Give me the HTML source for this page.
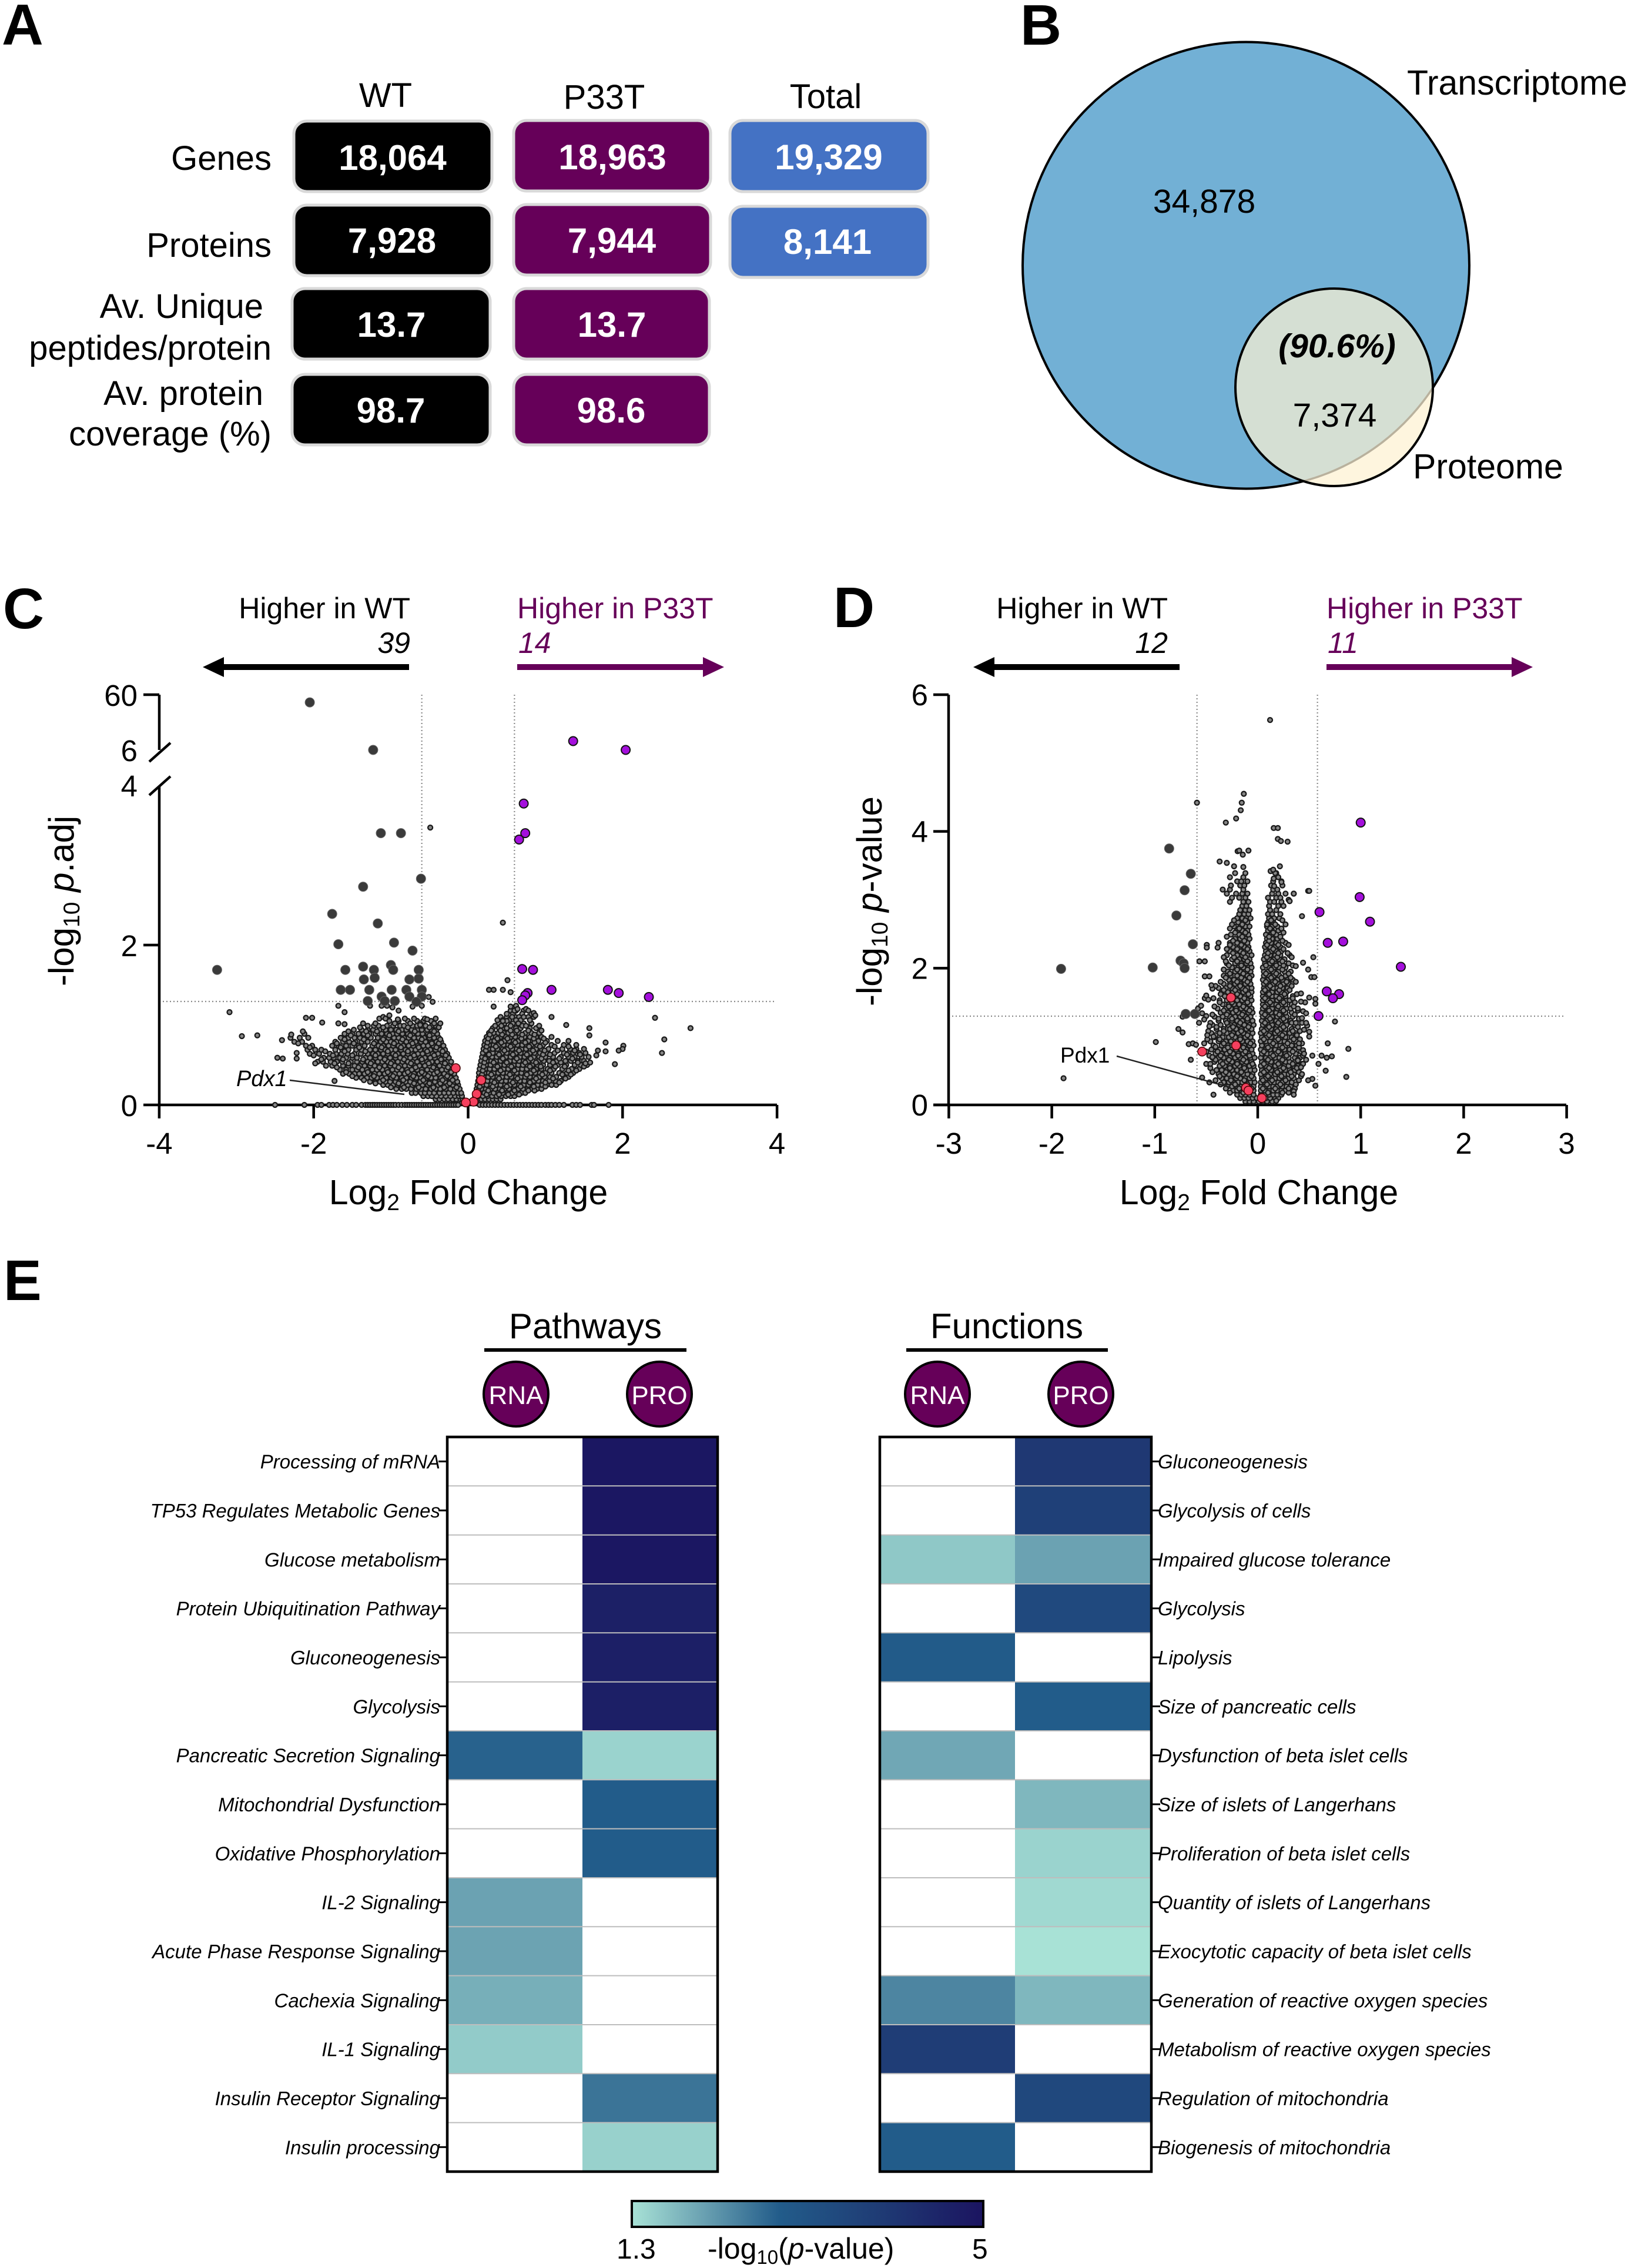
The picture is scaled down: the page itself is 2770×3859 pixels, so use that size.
<!DOCTYPE html>
<html lang="en"><head><meta charset="utf-8"><title>Transcriptome and proteome figure</title>
<style>html,body{margin:0;padding:0;background:#fff}svg{display:block}text{font-family:"Liberation Sans",sans-serif;fill:#000}.w text,text.w{fill:#fff}.b{font-weight:700}.i{font-style:italic}.p{fill:#660059}</style></head>
<body>
<svg id="fig" xmlns="http://www.w3.org/2000/svg" width="2770" height="3859" viewBox="0 0 2770 3859">
<rect width="2770" height="3859" fill="#fff"/>
<g font-size="97" class="b">
<text class="b" x="3" y="76" font-size="98">A</text>
<text class="b" x="1736" y="76">B</text>
<text class="b" x="5" y="1069">C</text>
<text class="b" x="1418" y="1067">D</text>
<text class="b" x="6" y="2212">E</text>
</g>
<g font-size="58">
<text x="656" y="182" text-anchor="middle">WT</text>
<text x="1028" y="185" text-anchor="middle">P33T</text>
<text x="1405" y="184" text-anchor="middle">Total</text>
<text x="462" y="289" text-anchor="end">Genes</text>
<text x="462" y="437" text-anchor="end">Proteins</text>
<text x="448" y="541" text-anchor="end">Av. Unique</text>
<text x="462" y="612" text-anchor="end">peptides/protein</text>
<text x="448" y="689" text-anchor="end">Av. protein</text>
<text x="462" y="758" text-anchor="end">coverage (%)</text>
<g stroke="#d9d9d9" stroke-width="5">
<rect x="500" y="206" width="337" height="120" rx="22" fill="#000"/>
<rect x="874" y="205" width="335" height="120" rx="22" fill="#660059"/>
<rect x="1242" y="205" width="337" height="121" rx="22" fill="#4472c4"/>
<rect x="500" y="349" width="337" height="120" rx="22" fill="#000"/>
<rect x="874" y="348" width="335" height="120" rx="22" fill="#660059"/>
<rect x="1242" y="351" width="337" height="121" rx="22" fill="#4472c4"/>
<rect x="497" y="491" width="337" height="120" rx="22" fill="#000"/>
<rect x="874" y="491" width="333" height="120" rx="22" fill="#660059"/>
<rect x="497" y="637" width="337" height="120" rx="22" fill="#000"/>
<rect x="874" y="637" width="333" height="120" rx="22" fill="#660059"/>
</g>
<g class="w" font-size="60" text-anchor="middle">
<text class="b" x="668" y="289">18,064</text>
<text class="b" x="1042" y="288">18,963</text>
<text class="b" x="1410" y="288">19,329</text>
<text class="b" x="667" y="430">7,928</text>
<text class="b" x="1041" y="430">7,944</text>
<text class="b" x="1408" y="432">8,141</text>
<text class="b" x="666" y="573">13.7</text>
<text class="b" x="1041" y="573">13.7</text>
<text class="b" x="665" y="719">98.7</text>
<text class="b" x="1040" y="719">98.6</text>
</g>
</g>
<g>
<defs><clipPath id="bigClip"><circle cx="2120" cy="451.5" r="380"/></clipPath><clipPath id="smallClip"><circle cx="2270" cy="659" r="168"/></clipPath></defs>
<circle cx="2120" cy="451.5" r="380" fill="#72b0d5" stroke="#000" stroke-width="4"/>
<circle cx="2270" cy="659" r="168" fill="#fef5de"/>
<circle cx="2270" cy="659" r="168" fill="#d5dfd3" clip-path="url(#bigClip)"/>
<circle cx="2120" cy="451.5" r="380" fill="none" stroke="#b9b19d" stroke-width="3.5" clip-path="url(#smallClip)"/>
<circle cx="2270" cy="659" r="168" fill="none" stroke="#000" stroke-width="4"/>
<text font-size="57" x="2049" y="362" text-anchor="middle">34,878</text>
<text class="b i" font-size="57" x="2275" y="608" text-anchor="middle">(90.6%)</text>
<text font-size="57" x="2271" y="726" text-anchor="middle">7,374</text>
<text font-size="59" x="2394" y="161">Transcriptome</text>
<text font-size="59" x="2404" y="814">Proteome</text>
</g>
<g font-size="50">
<text x="698" y="1052" text-anchor="end">Higher in WT</text>
<text class="i" x="698" y="1111" text-anchor="end">39</text>
<text class="p" x="880" y="1052">Higher in P33T</text>
<text class="p i" x="882" y="1111">14</text>
<path d="M696 1130V1140H381V1152L345 1135L381 1118V1130Z" fill="#000"/>
<path d="M880 1130V1140H1196V1152L1232 1135L1196 1118V1130Z" fill="#660059"/>
</g>
<g font-size="50">
<text x="1987" y="1052" text-anchor="end">Higher in WT</text>
<text class="i" x="1987" y="1111" text-anchor="end">12</text>
<text class="p" x="2257" y="1052">Higher in P33T</text>
<text class="p i" x="2259" y="1111">11</text>
<path d="M2007 1130V1140H1692V1152L1656 1135L1692 1118V1130Z" fill="#000"/>
<path d="M2257 1130V1140H2572V1152L2608 1135L2572 1118V1130Z" fill="#660059"/>
</g>
<g id="volcC"></g>
<g id="volcD"></g>
<text font-size="60" transform="translate(125 1678) rotate(-90)">-log<tspan font-size="39" dy="10">10</tspan><tspan dy="-10"> </tspan><tspan class="i">p</tspan>.adj</text>
<text font-size="60" transform="translate(1500 1712) rotate(-90)">-log<tspan font-size="39" dy="10">10</tspan><tspan dy="-10"> </tspan><tspan class="i">p</tspan>-value</text>
<text font-size="59" x="797" y="2049" text-anchor="middle">Log<tspan font-size="39" dy="10">2</tspan><tspan dy="-10"> Fold Change</tspan></text>
<text font-size="59" x="2142" y="2049" text-anchor="middle">Log<tspan font-size="39" dy="10">2</tspan><tspan dy="-10"> Fold Change</tspan></text>
<text class="i" font-size="38" x="402" y="1848">Pdx1</text>
<line x1="493" y1="1838" x2="688" y2="1862" stroke="#222" stroke-width="2.5"/>
<text font-size="37" x="1804" y="1808">Pdx1</text>
<line x1="1900" y1="1797" x2="2093" y2="1850" stroke="#222" stroke-width="2.5"/>
<g>
<text font-size="60" x="996" y="2277" text-anchor="middle">Pathways</text>
<rect x="824" y="2294" width="344" height="6"/>
<text font-size="60" x="1713" y="2277" text-anchor="middle">Functions</text>
<rect x="1542" y="2294" width="343" height="6"/>
<g stroke="#000" stroke-width="4" fill="#660059">
<circle cx="878" cy="2372" r="55"/>
<circle cx="1122" cy="2372" r="55"/>
<circle cx="1595" cy="2372" r="55"/>
<circle cx="1839" cy="2372" r="55"/>
</g>
<g class="w" font-size="44" text-anchor="middle">
<text x="878" y="2389">RNA</text>
<text x="1122" y="2389">PRO</text>
<text x="1595" y="2389">RNA</text>
<text x="1839" y="2389">PRO</text>
</g>
</g>
<g id="heatP"></g>
<g id="heatF"></g>
<g>
<defs><linearGradient id="cbar" x1="0" x2="1" y1="0" y2="0"></linearGradient></defs>
<rect x="1075" y="3745" width="598" height="44" fill="url(#cbar)" stroke="#000" stroke-width="4"/>
<text font-size="48" x="1049" y="3843">1.3</text>
<text font-size="50" x="1204" y="3843">-log<tspan font-size="33" dy="9">10</tspan><tspan dy="-9">(</tspan><tspan class="i">p</tspan>-value)</text>
<text font-size="48" x="1654" y="3843">5</text>
</g>
</svg>
<script>
// ---------- Panel C data (log2 fold change, -log10 p.adj) ----------
const cDownFc=[-2.05,-1.23,-1.13,-.87,-.61,-1.36,-1.76,-1.17,-1.68,-.96,-.72,-3.25,-1.36,-1,-1.59,-1.22,-.97,-.64,-1.35,-1.21,-.76,-.64,-1.65,-1.53,-1.28,-.99,-.8,-.6,-1.12,-.76,-.6,-1.3,-1.08,-.95,-.67];
const cDownP=[52.5,6,3.4,3.4,2.83,2.73,2.39,2.27,2.01,2.03,1.93,1.69,1.73,1.75,1.69,1.69,1.69,1.69,1.57,1.59,1.57,1.58,1.44,1.44,1.44,1.44,1.44,1.44,1.355,1.355,1.355,1.3,1.3,1.3,1.29];
const cUpFc=[1.36,2.04,.72,.74,.66,.7,.84,1.08,1.81,1.95,2.34,.77,.74,.7];
const cUpP=[14.6,6,3.77,3.4,3.32,1.7,1.69,1.44,1.44,1.4,1.35,1.4,1.37,1.31];
const cPdxFc=[-.16,.17,.11,.07,-.03];
const cPdxP=[.46,.31,.137,.04,.03];
const cSmallFc=[-1.68,-1.6,-1.27,-1.12,-1.05,-.98,-.9,-.72,-.6,-1.1,-1.02,-1.07,-.91,-.51,-.46,-.53,-.62,-2.1,-2.02,-1.89,-1.68,-1.6,-3.09,-2.93,-2.73,-2.41,-2.47,-2.4,-2.22,-2.22,-2.29,-2.14,-1.73,-.49,.45,.51,.27,.33,.45,.55,.33,.55,.6,.57,.62,.5,.45,.65,.75,.78,.72,.85,.87,1.08,1.27,1.57,1.57,1.78,1.78,2.01,2,1.95,1.9,1.68,1.66,1.52,2.42,2.88,2.54,2.51,.62,.64];
const cSmallP=[1.24,1.16,1.24,1.24,1.24,1.22,1.18,1.23,1.24,1.1,1.12,1.08,1.07,1.35,1.29,1.07,1,1.09,1.09,1.03,1.02,1.01,1.16,.86,.87,.81,.59,.58,.65,.58,.88,.92,.3,3.47,2.28,1.56,1.44,1.44,1.44,1.41,1.23,1.23,1.18,1.1,1.06,1.05,1.05,1.02,1.2,1.18,1.1,1.15,1.12,1.1,1,.96,.87,.78,.67,.74,.7,.68,.51,.68,.62,.52,1.09,.96,.82,.65,1.24,1.2];
const cZeroFc=[-2.5,-2.12,-1.95,-1.9,-1.8,-1.75,-1.7,-1.63,-1.57,-1.5,-1.45,-1.38,-1.33,-1.3,-1.27,-1.24,-1.21,-1.18,-1.15,-1.12,-1.09,-1.06,-1.03,-1,-.97,-.94,-.9,-.86,-.82,-.79,-.76,-.73,-.7,-.67,-.64,-.61,-.58,-.55,-.52,-.49,-.46,-.43,-.4,-.37,-.34,-.31,-.28,-.25,-.22,-.19,-.16,-.13,.15,.19,.23,.27,.31,.35,.39,.43,.47,.51,.55,.59,.63,.67,.71,.75,.79,.83,.87,.91,.95,1,1.04,1.08,1.13,1.18,1.24,1.35,1.4,1.45,1.6,1.63,1.82];
const cRowP=[.03,.07,.11,.15,.2,.25,.29,.34,.39,.44,.49,.54,.59,.64,.69,.74,.79,.84,.89,.94,.99,1.05,
.03,.07,.11,.15,.2,.25,.3,.35,.4,.45,.5,.55,.6,.65,.7,.75,.8,.85,.9,.96,1.02,1.1,1.18,
.22,.27,.31,.36,.41,.47,.52,.57,.62,.67,.72,.77,.82,.87,.92,.97,1.02,1.08,
.13,.18,.23,.28,.33,.38,.43,.48,.53,.58,.63,.68,.73,.78,.83,.88,.93,.99,1.06,1.14];
const cRowFc=[
[-.24,-.19,-.15,-.11,-.08,-.05],
[-.42,-.37,-.31,-.26,-.2,-.15,-.1,-.07],
[-.58,-.52,-.47,-.41,-.35,-.29,-.23,-.17,-.12,-.08],
[-.73,-.68,-.61,-.56,-.5,-.44,-.37,-.31,-.25,-.19,-.13,-.09],
[-.93,-.86,-.8,-.74,-.67,-.61,-.55,-.48,-.42,-.36,-.29,-.23,-.17,-.11],
[-1.1,-1.04,-.97,-.91,-.85,-.78,-.72,-.65,-.59,-.52,-.46,-.39,-.33,-.27,-.2,-.13],
[-1.27,-1.2,-1.14,-1.07,-1.01,-.94,-.88,-.81,-.75,-.69,-.62,-.56,-.49,-.43,-.37,-.3,-.24,-.18,-.14],
[-1.45,-1.38,-1.31,-1.25,-1.18,-1.12,-1.06,-.99,-.93,-.86,-.8,-.73,-.67,-.61,-.54,-.48,-.42,-.35,-.29,-.23,-.16],
[-1.62,-1.54,-1.47,-1.41,-1.34,-1.28,-1.21,-1.15,-1.08,-1.02,-.95,-.89,-.82,-.76,-.7,-.63,-.57,-.5,-.44,-.38,-.31,-.25,-.18],
[-1.66,-1.58,-1.5,-1.44,-1.37,-1.31,-1.24,-1.18,-1.11,-1.05,-.98,-.92,-.86,-.79,-.73,-.66,-.6,-.53,-.47,-.41,-.34,-.28,-.21],
[-1.84,-1.76,-1.62,-1.55,-1.47,-1.4,-1.34,-1.27,-1.21,-1.14,-1.08,-1.01,-.95,-.88,-.82,-.76,-.69,-.63,-.56,-.5,-.44,-.37,-.31,-.24],
[-1.95,-1.88,-1.78,-1.7,-1.63,-1.52,-1.44,-1.37,-1.3,-1.24,-1.17,-1.11,-1.04,-.98,-.91,-.85,-.78,-.72,-.66,-.59,-.53,-.47,-.4,-.34,-.27,-.22],
[-1.87,-1.8,-1.74,-1.66,-1.58,-1.5,-1.44,-1.33,-1.27,-1.2,-1.14,-1.07,-1.01,-.94,-.88,-.81,-.75,-.69,-.62,-.56,-.49,-.43,-.37,-.3,-.25],
[-2.05,-1.93,-1.79,-1.71,-1.64,-1.56,-1.47,-1.39,-1.3,-1.23,-1.17,-1.1,-1.04,-.97,-.91,-.84,-.78,-.72,-.65,-.59,-.52,-.46,-.39,-.33,-.27],
[-2.08,-1.98,-1.9,-1.72,-1.63,-1.55,-1.45,-1.38,-1.27,-1.2,-1.13,-1.07,-1,-.94,-.87,-.81,-.74,-.68,-.62,-.55,-.49,-.42,-.36,-.3],
[-2.1,-2.02,-1.76,-1.68,-1.58,-1.5,-1.42,-1.34,-1.24,-1.16,-1.1,-1.03,-.97,-.9,-.84,-.77,-.71,-.65,-.58,-.52,-.45,-.39,-.32],
[-2.25,-2.15,-1.72,-1.62,-1.54,-1.46,-1.38,-1.3,-1.2,-1.13,-1.06,-1,-.93,-.87,-.8,-.74,-.68,-.61,-.55,-.48,-.41,-.35],
[-2.3,-2.18,-2.07,-1.65,-1.55,-1.47,-1.4,-1.33,-1.26,-1.17,-1.09,-1.03,-.96,-.9,-.83,-.77,-.7,-.64,-.57,-.5,-.44,-.38],
[-2.12,-1.6,-1.5,-1.42,-1.35,-1.28,-1.2,-1.12,-1.05,-.98,-.92,-.85,-.78,-.72,-.65,-.59,-.52,-.46,-.4],
[-1.48,-1.38,-1.3,-1.23,-1.15,-1.07,-1,-.93,-.86,-.8,-.73,-.66,-.6,-.53,-.47,-.41],
[-1.3,-1.22,-1.16,-1.05,-.97,-.88,-.83,-.72,-.66,-.6,-.55,-.47,-.42],
[-1.02,-.9,-.78,-.66,-.58,-.48],
[.07,.1,.14,.19,.24],
[.08,.12,.17,.22,.27,.32,.37,.42],
[.09,.13,.19,.25,.31,.37,.43,.49,.55,.6],
[.1,.15,.21,.27,.33,.39,.45,.51,.57,.63,.69,.74],
[.11,.17,.23,.29,.35,.41,.47,.53,.59,.65,.71,.77,.83,.89,.95],
[.12,.18,.24,.3,.36,.42,.48,.54,.6,.66,.72,.78,.84,.9,.96,1.02,1.08,1.14],
[.13,.19,.25,.31,.37,.43,.49,.55,.61,.67,.73,.79,.85,.91,.97,1.05,1.13,1.2],
[.14,.2,.26,.32,.38,.44,.5,.56,.62,.68,.74,.8,.86,.92,.99,1.06,1.14,1.24,1.3],
[.14,.21,.27,.33,.39,.45,.51,.57,.63,.69,.75,.81,.87,.93,1,1.08,1.18,1.28,1.36],
[.15,.22,.28,.34,.4,.46,.52,.58,.64,.7,.76,.82,.88,.95,1.03,1.11,1.22,1.34,1.44],
[.16,.23,.29,.35,.41,.47,.53,.59,.65,.71,.77,.83,.9,.97,1.06,1.16,1.27,1.38,1.46,1.54],
[.17,.24,.3,.36,.42,.48,.54,.6,.66,.72,.78,.84,.91,.98,1.05,1.15,1.26,1.33,1.42,1.5],
[.18,.24,.31,.37,.43,.49,.55,.61,.67,.73,.79,.85,.92,1,1.1,1.2,1.3,1.38,1.47,1.56],
[.19,.25,.32,.38,.44,.5,.56,.62,.68,.74,.8,.86,.93,1.01,1.12,1.24,1.3,1.36,1.44,1.52],
[.2,.26,.32,.38,.45,.51,.57,.63,.69,.75,.81,.88,.95,1.04,1.22,1.32,1.4,1.5],
[.21,.27,.33,.39,.46,.52,.58,.64,.7,.76,.82,.89,.97,1.08,1.24,1.4],
[.22,.28,.34,.41,.47,.53,.59,.65,.71,.78,.84,.91,1.02,1.16,1.3],
[.24,.3,.36,.42,.49,.55,.61,.67,.73,.8,.88,.95,1.08],
[.27,.33,.39,.46,.52,.6,.66,.74,.82,.92],
[.32,.4,.45,.5,.62,.68,.8,.88],
[.4,.47,.58,.65,.72,.82],
[.42,.5,.61,.66,.78,.85],
[.55,.62,.72],
[-1,-.83,-.64,-.45,-.31,-.15],
[-1.2,-.9,-.7,-.5,-.36,-.24],
[-1.35,-1.1,-.84,-.58,-.33,-.2],
[-1.5,-1.22,-.97,-.71,-.52,-.27],
[-1.58,-1.3,-1.04,-.78,-.6,-.4,-.22],
[-1.7,-1.42,-1.15,-.9,-.68,-.45,-.26],
[-1.98,-1.73,-1.55,-1.26,-1,-.74,-.51,-.3],
[-1.9,-1.62,-1.36,-1.08,-.83,-.6,-.35],
[-2,-1.75,-1.5,-1.2,-.94,-.7,-.44,-.29],
[-1.85,-1.6,-1.33,-1.04,-.78,-.53,-.33],
[-2.05,-1.65,-1.41,-1.12,-.87,-.64,-.41],
[-2.2,-1.7,-1.48,-1.22,-.96,-.72,-.47,-.38],
[-1.6,-1.35,-1.1,-.85,-.6,-.36],
[-1.52,-1.3,-1.02,-.75,-.5],
[-1.55,-1.32,-1.18,-.9,-.69,-.44],
[-1.4,-1.1,-.78,-.5,-.38],
[-1.36,-1.2,-.95,-.75,-.62,-.44,-.36],
[-1.15,-.82,-.7,-.56,-.42],
[.12,.24,.4,.52,.66],
[.13,.26,.44,.6,.78,.86],
[.15,.32,.5,.68,.85,1],
[.16,.34,.58,.8,1,1.18],
[.17,.4,.64,.88,1.1,1.26],
[.18,.3,.54,.76,.96,1.22,1.33],
[.19,.42,.6,.85,1.06,1.3,1.4],
[.2,.38,.56,.8,.94,1.13,1.25,1.5],
[.21,.33,.5,.74,.88,1.1,1.2,1.42,1.58],
[.22,.45,.63,.81,.95,1.18,1.35],
[.27,.4,.58,.76,.97,1.06,1.28,1.45],
[.23,.47,.66,.84,.99,1.16,1.38],
[.24,.36,.55,.79,.93,1.12,1.3],
[.25,.43,.61,.74,.86,1],
[.26,.38,.51,.69,.85,.98],
[.28,.44,.57,.7,.86],
[.3,.42,.55,.63,.78,.95],
[.35,.43,.55,.7,.75,.92],
[.38,.45,.53,.68,.8],
[.5,.58,.7,.82]];
// ---------- Panel D data (log2 fold change, -log10 p-value) ----------
const dDownFc=[-.86,-.65,-.71,-.79,-.63,-.75,-.72,-.71,-1.02,-1.91,-.7,-.61];
const dDownP=[3.75,3.38,3.14,2.77,2.35,2.11,2.07,2,2.01,1.99,1.33,1.33];
const dUpFc=[1,.99,1.09,.6,.68,.83,1.39,.67,.79,.73,.59];
const dUpP=[4.13,3.04,2.68,2.82,2.37,2.39,2.02,1.66,1.62,1.56,1.3];
const dPdxFc=[-.26,-.21,-.54,-.115,-.09,.04];
const dPdxP=[1.57,.87,.78,.25,.21,.1];
const dSmallFc=[.12,-.135,-.155,-.165,-.21,-.31,-.59,.155,.195,.195,.225,.29,-.195,-.18,-.09,-.145,-.37,-.3,-.23,-.14,.215,.125,.15,.155,.23,.49,.35,.16,.3,-.566,-.514,-.495,-.495,-.38,-.39,-.514,-.47,-.44,-.45,-.514,-.48,-.58,-.54,-.73,-.57,-.77,-.73,-.99,-.67,-.63,-.6,-.65,-.54,-.47,-.43,-1.886,.5,.35,.31,.43,.54,.44,.37,.49,.52,.55,.42,.5,.56,.56,.46,.42,.39,.44,.47,.75,.43,.43,.48,.5,.45,.68,.88,.86,.72,.67,.62,.66,.59,.53,.44,.44,.44,.43,.53,.49,.56,.35,.35,.18,-.5,-.47,-.49,-.43,-.41,-.46,-.44,-.52,-.55,-.5,.4,.42,.39,.45,.5,.47];
const dSmallP=[5.63,4.55,4.42,4.31,4.19,4.13,4.42,4.05,4.05,3.89,3.86,3.85,3.71,3.72,3.72,3.66,3.56,3.54,3.49,3.48,3.49,3.42,3.44,3.31,3.26,3.13,3.09,3.2,3,2.1,2.1,2.34,2.3,2.37,2.3,1.88,1.88,1.7,1.75,1.56,1.54,1.41,1.34,1.29,1.2,1.11,1.06,.92,.89,.9,.88,.66,.4,.33,.15,.39,3.13,3.09,2.98,2.76,2.16,2.08,2.03,1.98,1.87,1.87,1.63,1.57,1.55,1.48,1.5,1.51,1.41,1.37,1.34,1.22,1.27,1.2,1.16,1.07,1.1,.9,.82,.41,.71,.69,.72,.5,.6,.72,.8,.72,.6,.45,.38,.36,.28,.2,.15,.06,1.3,1.15,1.02,1,.85,.6,.7,1.25,1.45,1.6,.9,.55,.65,.75,1,1.2];
const dRowP=[.05,.1,.15,.21,.27,.33,.39,.45,.51,.57,.63,.69,.75,.81,.87,.93,.99,1.05,1.11,1.17,1.23,1.29,1.35,1.41,1.47,1.53,1.59,1.65,1.71,1.77,1.83,1.89,1.95,2.01,2.07,2.13,2.19,2.25,2.31,2.37,2.43,2.49,2.55,2.61,2.67,2.73,2.79,2.85,2.91,2.97,3.03,3.09,3.15,3.21,3.27,3.33,3.39,
.18,.24,.3,.36,.42,.48,.54,.6,.66,.72,.78,.84,.9,.96,1.02,1.08,1.14,1.2,1.26,1.32,1.38,1.44,1.5,1.56,1.62,1.68,1.74,1.8,1.86,1.92,1.98,2.04,2.1,2.16,2.22,2.28,2.34,2.4,2.46,2.52,2.58,2.64,2.7];
const dRowFc=[
[-.12,-.08,-.04,.01,.05,.09,.14],
[-.17,-.13,-.09,-.05,-.01,.04,.08,.12,.17,.2],
[-.2,-.16,-.12,-.08,-.04,.03,.07,.11,.15,.19,.23],
[-.24,-.2,-.16,-.12,-.08,-.04,.03,.07,.11,.15,.19,.23,.27],
[-.29,-.25,-.2,-.16,-.12,-.08,-.04,.03,.07,.11,.15,.19,.24,.28,.32],
[-.33,-.28,-.24,-.19,-.15,-.11,-.07,-.03,.03,.07,.12,.16,.2,.24,.29,.33],
[-.35,-.3,-.26,-.21,-.17,-.12,-.08,-.04,.04,.08,.12,.17,.21,.26,.3,.35],
[-.38,-.33,-.28,-.23,-.19,-.14,-.1,-.05,.03,.08,.12,.17,.21,.26,.3,.35],
[-.4,-.35,-.3,-.25,-.2,-.16,-.11,-.07,-.03,.04,.09,.13,.18,.22,.27,.31,.36],
[-.37,-.32,-.27,-.22,-.18,-.13,-.08,-.04,.03,.08,.12,.17,.21,.26,.3,.35,.39],
[-.42,-.36,-.3,-.25,-.2,-.15,-.11,-.06,.04,.09,.13,.18,.22,.27,.31,.36],
[-.44,-.38,-.33,-.27,-.22,-.17,-.12,-.07,-.03,.03,.08,.12,.17,.21,.26,.3,.36,.41],
[-.41,-.35,-.3,-.24,-.19,-.14,-.09,-.05,.04,.09,.13,.18,.22,.27,.31,.37],
[-.45,-.37,-.32,-.26,-.21,-.16,-.11,-.06,.03,.08,.12,.17,.21,.26,.31,.36],
[-.43,-.35,-.29,-.23,-.18,-.13,-.08,-.04,.04,.09,.13,.18,.22,.27,.33,.38],
[-.46,-.38,-.31,-.26,-.2,-.15,-.1,-.05,.03,.08,.12,.17,.22,.26,.31,.37],
[-.42,-.34,-.28,-.22,-.17,-.12,-.07,.04,.09,.13,.18,.22,.27,.33],
[-.45,-.37,-.3,-.24,-.19,-.14,-.09,-.05,.03,.08,.12,.17,.21,.26,.31,.37],
[-.4,-.33,-.27,-.21,-.16,-.11,-.06,.04,.09,.13,.18,.22,.27,.33],
[-.44,-.36,-.29,-.23,-.18,-.13,-.08,-.04,.05,.1,.14,.19,.23,.28,.36],
[-.38,-.31,-.25,-.2,-.15,-.1,-.05,.04,.09,.13,.18,.22,.27,.32],
[-.42,-.34,-.27,-.22,-.17,-.12,-.07,.05,.1,.14,.19,.23,.28,.34],
[-.36,-.29,-.24,-.19,-.14,-.09,-.05,.04,.09,.13,.18,.22,.27,.33],
[-.39,-.31,-.26,-.21,-.16,-.11,-.06,.05,.1,.14,.19,.23,.28,.32],
[-.34,-.28,-.23,-.18,-.13,-.08,.05,.09,.14,.18,.23,.27,.33],
[-.37,-.3,-.25,-.2,-.15,-.1,-.06,.05,.1,.14,.19,.23,.28,.31],
[-.32,-.27,-.22,-.17,-.12,-.07,.05,.09,.14,.18,.23,.27,.34],
[-.35,-.29,-.24,-.19,-.14,-.09,-.06,.05,.1,.14,.19,.23,.28],
[-.38,-.31,-.25,-.2,-.15,-.1,-.06,.06,.1,.15,.19,.24,.29],
[-.33,-.27,-.22,-.17,-.12,-.07,.06,.1,.15,.2,.25,.3],
[-.28,-.23,-.18,-.13,-.08,.05,.1,.14,.19,.24,.29,.34],
[-.33,-.26,-.2,-.15,-.1,-.06,.06,.11,.16,.21,.27],
[-.29,-.22,-.17,-.12,-.07,.06,.1,.15,.2,.26,.32],
[-.25,-.19,-.14,-.09,-.06,.05,.11,.16,.21,.27],
[-.3,-.22,-.16,-.11,-.07,.07,.12,.17,.22,.3],
[-.25,-.18,-.13,-.08,.06,.11,.16,.21,.26],
[-.3,-.2,-.15,-.1,-.06,.07,.12,.17,.22,.31],
[-.27,-.22,-.17,-.12,-.08,.08,.13,.18,.23],
[-.24,-.18,-.13,-.09,.07,.12,.17,.22],
[-.27,-.2,-.15,-.1,.08,.13,.18,.27],
[-.22,-.17,-.12,-.08,.09,.14,.19],
[-.26,-.18,-.13,-.09,.08,.13,.18],
[-.2,-.15,-.1,.1,.14,.2],
[-.23,-.17,-.12,-.08,.09,.14,.19],
[-.19,-.14,-.1,.1,.15],
[-.2,-.15,-.11,-.07,.11,.16,.21],
[-.18,-.13,-.09,.1,.14,.22],
[-.17,-.12,-.08,.12,.18],
[-.15,-.11,.11,.2,.25],
[-.27,-.14,-.09,.12,.16,.23],
[-.25,-.18,-.12,.1,.18,.22],
[-.3,-.21,-.15,-.1,.14,.2,.27],
[-.34,-.27,-.14,.15,.19],
[-.26,-.17,-.13,.13,.24],
[-.2,-.16,-.1,.23,.15],
[-.27,-.14,.2],
[-.22,-.12,.18,.17],
[-.27,-.14,.1,.24,.3],
[-.31,-.18,-.06,.05,.17,.3,.36],
[-.36,-.22,-.1,.09,.22,.37],
[-.41,-.26,-.13,.05,.14,.27,.4],
[-.37,-.2,-.06,.1,.23,.33,.42],
[-.44,-.31,-.16,.06,.19,.32,.4],
[-.46,-.27,-.13,.11,.25,.38],
[-.5,-.34,-.2,-.05,.06,.2,.34,.43],
[-.41,-.28,-.14,.1,.24,.39,.47],
[-.47,-.36,-.19,-.08,.15,.28,.44],
[-.5,-.39,-.27,-.12,.06,.2,.34,.42],
[-.41,-.29,-.14,.1,.24,.4],
[-.52,-.33,-.22,-.07,.15,.29,.43],
[-.49,-.37,-.17,.06,.2,.35,.41],
[-.41,-.25,-.1,.11,.24,.38],
[-.48,-.33,-.16,.06,.19,.34,.41],
[-.4,-.24,-.09,.11,.25,.39],
[-.46,-.3,-.17,.07,.2,.33,.37],
[-.38,-.25,-.1,.12,.25,.4],
[-.44,-.3,-.15,.07,.21,.36],
[-.33,-.21,-.08,.11,.25,.39],
[-.42,-.28,-.14,.07,.2,.35],
[-.37,-.25,-.1,.12,.25,.36],
[-.43,-.27,-.13,.07,.21,.34],
[-.36,-.2,-.09,.11,.26,.38],
[-.33,-.22,-.12,.07,.21,.31],
[-.41,-.27,-.17,.12,.22,.33],
[-.36,-.2,-.1,.08,.17,.28,.37],
[-.31,-.16,-.08,.13,.23,.32],
[-.27,-.14,.08,.18,.3],
[-.33,-.2,-.1,.13,.24],
[-.28,-.16,.08,.18,.25,.34],
[-.31,-.2,-.1,.14,.24],
[-.33,-.23,-.12,.09,.19,.33],
[-.24,-.14,.1,.2,.29],
[-.3,-.2,-.1,.15,.25],
[-.27,-.16,.09,.2,.3],
[-.24,-.13,.11,.24],
[-.3,-.15,.11,.22],
[-.22,-.12,.15,.25],
[-.27,-.18,.12,.23],
[-.25,-.15,.09,.17,.27],
[-.23,-.12,.13,.24]];
// ---------- Axis tick labels ----------
const cXTicks=[-4,-2,0,2,4];
const cYTicks=[0,2,4,6,60];
const dXTicks=[-3,-2,-1,0,1,2,3];
const dYTicks=[0,2,4,6];
// ---------- Heatmap data ----------
const pathwayNames=["Processing of mRNA","TP53 Regulates Metabolic Genes","Glucose metabolism","Protein Ubiquitination Pathway","Gluconeogenesis","Glycolysis","Pancreatic Secretion Signaling","Mitochondrial Dysfunction","Oxidative Phosphorylation","IL-2 Signaling","Acute Phase Response Signaling","Cachexia Signaling","IL-1 Signaling","Insulin Receptor Signaling","Insulin processing"];
const pathwayRna=[null,null,null,null,null,null,2.79,null,null,2.04,2.03,1.89,1.57,null,null];
const pathwayPro=[4.92,4.92,4.92,4.67,4.7,4.7,1.47,2.85,2.85,null,null,null,null,2.58,1.5];
const functionNames=["Gluconeogenesis","Glycolysis of cells","Impaired glucose tolerance","Glycolysis","Lipolysis","Size of pancreatic cells","Dysfunction of beta islet cells","Size of islets of Langerhans","Proliferation of beta islet cells","Quantity of islets of Langerhans","Exocytotic capacity of beta islet cells","Generation of reactive oxygen species","Metabolism of reactive oxygen species","Regulation of mitochondria","Biogenesis of mitochondria"];
const functionRna=[null,null,1.6,null,2.9,null,1.98,null,null,null,null,2.38,3.86,null,2.85];
const functionPro=[4,3.76,2.04,3.47,null,2.85,null,1.8,1.47,1.4,1.3,1.8,null,3.5,null];

const NS="http://www.w3.org/2000/svg";
function mk(tag,parent,attrs){const e=document.createElementNS(NS,tag);for(const k in attrs)e.setAttribute(k,attrs[k]);parent.appendChild(e);return e;}
// Axis functions
function xC(v){return 796.5+131.4*v;}
function yC(v){return v>=6?1276-(v-6)*94/54:1880-136*v;}
function xD(v){return 2140+175.2*v;}
function yD(v){return 1880-116.33*v;}
function dots(g,xs,ys,xf,yf,r,fill,stroke,sw,label){
  for(let i=0;i<xs.length;i++){
    const c=mk('circle',g,{cx:xf(xs[i]).toFixed(1),cy:yf(ys[i]).toFixed(1),r:r,fill:fill,stroke:stroke,'stroke-width':sw});
    
    
  }
}
function thin(g,x1,y1,x2,y2){
  const l=mk('line',g,{x1:x1,y1:y1,x2:x2,y2:y2,stroke:'#8a8a8a','stroke-width':2.2,'stroke-dasharray':'2 4'});
  
  
}
function axLine(g,x1,y1,x2,y2,sw){
  const l=mk('line',g,{x1:x1,y1:y1,x2:x2,y2:y2,stroke:'#000','stroke-width':sw||4.5});
  
  
}
function tickLabel(g,x,y,s,anchor){
  const t=mk('text',g,{x:x,y:y,'text-anchor':anchor,'font-size':51});
  t.textContent=s;
  
  
}
function background(g,rowP,rowFc,xf,yf){
  for(let i=0;i<rowP.length;i++){
    const ys=rowFc[i].map(function(){return rowP[i];});
    dots(g,rowFc[i],ys,xf,yf,4,'#868686','#1a1a1a',2.3,'not-significant-point');
  }
}
function buildC(){
  const g=document.getElementById('volcC');
  thin(g,xC(-.6),1182,xC(-.6),1880);
  thin(g,xC(.6),1182,xC(.6),1880);
  thin(g,271,1704,1320,1704);
  axLine(g,271,1182,271,1276);
  axLine(g,271,1337,271,1880);
  axLine(g,244,1880,1322,1880);
  axLine(g,244,1182,271,1182);
  axLine(g,244,1608,271,1608);
  axLine(g,254,1296,290,1264);
  axLine(g,254,1353,290,1321);
  cXTicks.forEach(function(v){
    axLine(g,xC(v),1880,xC(v),1903);
    tickLabel(g,xC(v),1963,String(v),'middle');
  });
  cYTicks.forEach(function(v){tickLabel(g,234,yC(v)+19,String(v),'end');});
  background(g,cRowP,cRowFc,xC,yC);
  dots(g,cZeroFc,cZeroFc.map(function(){return 0;}),xC,yC,4,'#868686','#1a1a1a',2.3,'zero-line-point');
  dots(g,cSmallFc,cSmallP,xC,yC,4,'#868686','#1a1a1a',2.3,'not-significant-point');
  dots(g,cDownFc,cDownP,xC,yC,8,'#3a3a3a','#666',1,'higher-in-wt-point');
  dots(g,cUpFc,cUpP,xC,yC,7.5,'#a40fdc','#111',2,'higher-in-p33t-point');
  dots(g,cPdxFc,cPdxP,xC,yC,7.5,'#f5405e','#400',1.5,'highlight-point');
}
function buildD(){
  const g=document.getElementById('volcD');
  thin(g,xD(-.59),1182,xD(-.59),1880);
  thin(g,xD(.58),1182,xD(.58),1880);
  thin(g,1614,1729,2662,1729);
  axLine(g,1614,1182,1614,1880);
  axLine(g,1588,1880,2665,1880);
  dXTicks.forEach(function(v){
    axLine(g,xD(v),1880,xD(v),1903);
    tickLabel(g,xD(v),1963,String(v),'middle');
  });
  dYTicks.forEach(function(v){
    axLine(g,1588,yD(v),1614,yD(v));
    tickLabel(g,1579,yD(v)+18,String(v),'end');
  });
  background(g,dRowP,dRowFc,xD,yD);
  dots(g,dSmallFc,dSmallP,xD,yD,4,'#868686','#1a1a1a',2.3,'not-significant-point');
  dots(g,dDownFc,dDownP,xD,yD,8,'#3a3a3a','#666',1,'higher-in-wt-point');
  dots(g,dUpFc,dUpP,xD,yD,7.5,'#a40fdc','#111',2,'higher-in-p33t-point');
  dots(g,dPdxFc,dPdxP,xD,yD,7.5,'#f5405e','#400',1.5,'highlight-point');
}
// Colour scale for -log10(p-value)
const scalePos=[0,.2,.42,.7,1];
const scaleCol=[[168,226,214],[107,162,178],[34,92,138],[31,60,117],[27,20,96]];
function colour(v){
  const t=Math.min(1,Math.max(0,(v-1.3)/3.7));
  let i=0;
  while(i<scalePos.length-2&&t>scalePos[i+1])i++;
  const f=(t-scalePos[i])/(scalePos[i+1]-scalePos[i]);
  const c=scaleCol[i].map(function(a,k){return Math.round(a+(scaleCol[i+1][k]-a)*f);});
  return 'rgb('+c.join(',')+')';
}
function heat(id,left,mid,right,names,rna,pro,labelSide){
  const g=document.getElementById(id);
  const top=2445,rowH=83.33;
  names.forEach(function(nm,i){
    const y=top+rowH*i;
    if(rna[i]!==null){
      const a=mk('rect',g,{x:left,y:y.toFixed(1),width:mid-left,height:rowH.toFixed(2),fill:colour(rna[i])});
      
      
    }
    if(pro[i]!==null){
      const b=mk('rect',g,{x:mid,y:y.toFixed(1),width:right-mid,height:rowH.toFixed(2),fill:colour(pro[i])});
      
      
    }
  });
  names.forEach(function(nm,i){
    const y=top+rowH*i,cy=y+rowH/2;
    if(i>0){
      const s=mk('line',g,{x1:left,x2:right,y1:y.toFixed(1),y2:y.toFixed(1),stroke:'#bdbdbd','stroke-width':2});
      
      
    }
    const tx=labelSide==='left'?[left-15,left]:[right,right+15];
    axLine(g,tx[0],cy,tx[1],cy,3);
    const t=mk('text',g,{x:labelSide==='left'?left-12:right+11,y:(cy+12).toFixed(1),'font-size':33,'font-style':'italic','text-anchor':labelSide==='left'?'end':'start'});
    t.textContent=nm;
    
    
  });
  const r=mk('rect',g,{x:left,y:top,width:right-left,height:(rowH*15).toFixed(1),fill:'none',stroke:'#000','stroke-width':4.5});
  
  
}
const grad=document.getElementById('cbar');
scalePos.forEach(function(p,i){
  const st=mk('stop',grad,{offset:p,'stop-color':'rgb('+scaleCol[i].join(',')+')'});
  
  
});
buildC();
buildD();
heat('heatP',761,991,1221,pathwayNames,pathwayRna,pathwayPro,'left');
heat('heatF',1497,1727,1959,functionNames,functionRna,functionPro,'right');
</script>
</body></html>
